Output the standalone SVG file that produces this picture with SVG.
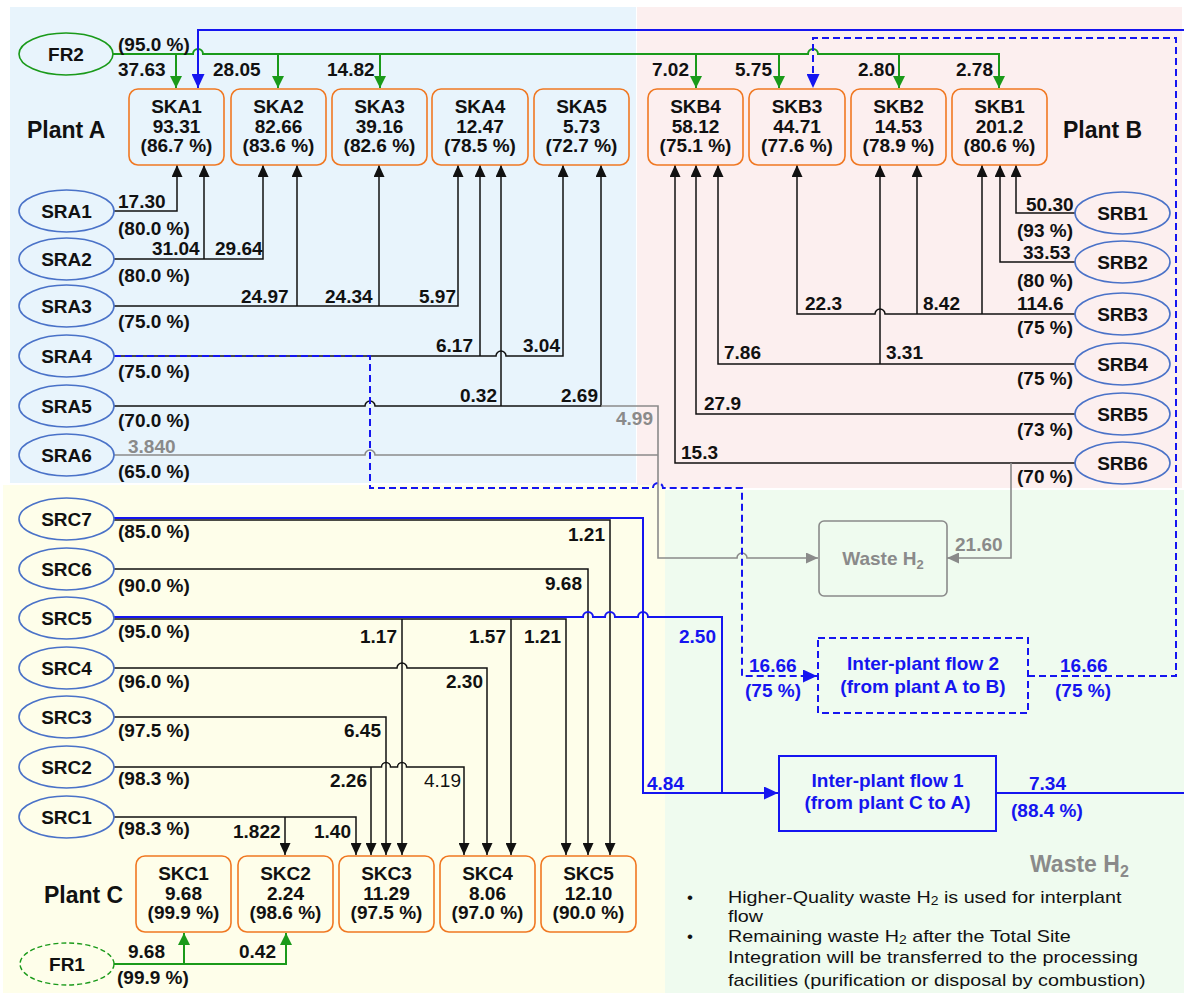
<svg xmlns="http://www.w3.org/2000/svg" width="1184" height="993" viewBox="0 0 1184 993">
<style>
text{font-family:"Liberation Sans",Arial,sans-serif}
.b{font-weight:bold;font-size:19px;fill:#111}
.bc{font-weight:bold;font-size:19px;fill:#111;text-anchor:middle}
.pl{font-weight:bold;font-size:23px;fill:#111}
.gy{font-weight:bold;font-size:19px;fill:#8a8a8a}
.bl{font-weight:bold;font-size:19px;fill:#1515f0}
.blc{font-weight:bold;font-size:19px;fill:#1515f0;text-anchor:middle}
.rg{font-size:19px;fill:#111}
.nt{font-size:17px;fill:#111}
.sk{fill:none;stroke:#f07822;stroke-width:1.6}
.sr{fill:none;stroke:#4a72c8;stroke-width:1.6}
.k{fill:none;stroke:#111;stroke-width:1.5}
.g{fill:none;stroke:#1a9a1a;stroke-width:2}
.u{fill:none;stroke:#1515f0;stroke-width:2}
.ud{fill:none;stroke:#1515f0;stroke-width:2;stroke-dasharray:7 4}
.gr{fill:none;stroke:#8a8a8a;stroke-width:1.6}
</style>
<defs>
<marker id="ak" viewBox="0 0 10 10" refX="10" refY="5" markerWidth="12" markerHeight="11" markerUnits="userSpaceOnUse" orient="auto" preserveAspectRatio="none"><path d="M0,0 L10,5 L0,10 z" fill="#111"/></marker>
<marker id="ag" viewBox="0 0 10 10" refX="10" refY="5" markerWidth="12" markerHeight="12" markerUnits="userSpaceOnUse" orient="auto" preserveAspectRatio="none"><path d="M0,0 L10,5 L0,10 z" fill="#1a9a1a"/></marker>
<marker id="au" viewBox="0 0 10 10" refX="10" refY="5" markerWidth="14" markerHeight="13" markerUnits="userSpaceOnUse" orient="auto" preserveAspectRatio="none"><path d="M0,0 L10,5 L0,10 z" fill="#1515f0"/></marker>
<marker id="ay" viewBox="0 0 10 10" refX="10" refY="5" markerWidth="12" markerHeight="11" markerUnits="userSpaceOnUse" orient="auto" preserveAspectRatio="none"><path d="M0,0 L10,5 L0,10 z" fill="#8a8a8a"/></marker>
</defs>
<rect width="1184" height="993" fill="#fff"/>
<g id="regions">
<rect x="10" y="7" width="626" height="476" fill="#e8f4fc"/>
<rect x="637" y="7" width="545" height="481" fill="#fcefef"/>
<rect x="3" y="485" width="662" height="508" fill="#fefeea"/>
<rect x="665" y="490" width="519" height="503" fill="#effbef"/>
</g>
<g id="labels-plants">
<text class="pl" x="27" y="138">Plant A</text>
<text class="pl" x="1063" y="138">Plant B</text>
<text class="pl" x="44" y="903">Plant C</text>
</g>
<g id="connectors">
<path class="g" d="M113,54 H193 a5,5 0 0 1 10,0 H808 a5,5 0 0 1 10,0 H999 V88" marker-end="url(#ag)"/>
<path class="g" d="M176,54 V88" marker-end="url(#ag)"/>
<path class="g" d="M278,54 V88" marker-end="url(#ag)"/>
<path class="g" d="M380,54 V88" marker-end="url(#ag)"/>
<path class="g" d="M696,54 V88" marker-end="url(#ag)"/>
<path class="g" d="M779,54 V88" marker-end="url(#ag)"/>
<path class="g" d="M899,54 V88" marker-end="url(#ag)"/>
<path class="u" d="M1184,30 H198 V88" marker-end="url(#au)"/>
<path class="k" d="M114,211 H177 V165" marker-end="url(#ak)"/>
<path class="k" d="M114,259 H263 V165" marker-end="url(#ak)"/>
<path class="k" d="M204,259 V165" marker-end="url(#ak)"/>
<path class="k" d="M114,306 H458 V165" marker-end="url(#ak)"/>
<path class="k" d="M297,306 V165" marker-end="url(#ak)"/>
<path class="k" d="M379,306 V165" marker-end="url(#ak)"/>
<path class="k" d="M114,356 H496 a5,5 0 0 1 10,0 H563 V165" marker-end="url(#ak)"/>
<path class="k" d="M480,356 V165" marker-end="url(#ak)"/>
<path class="k" d="M114,406 H365 a5,5 0 0 1 10,0 H601 V165" marker-end="url(#ak)"/>
<path class="k" d="M501,406 V165" marker-end="url(#ak)"/>
<path class="gr" d="M601,406 H658 V558 H737 a5,5 0 0 1 10,0 H818" marker-end="url(#ay)"/>
<path class="gr" d="M114,455 H365 a5,5 0 0 1 10,0 H658"/>
<path class="k" d="M1075,213 H1016 V165" marker-end="url(#ak)"/>
<path class="k" d="M1075,262 H1000 V165" marker-end="url(#ak)"/>
<path class="k" d="M1075,314 H885 a5,5 0 0 0 -10,0 H797 V165" marker-end="url(#ak)"/>
<path class="k" d="M982,314 V165" marker-end="url(#ak)"/>
<path class="k" d="M917,314 V165" marker-end="url(#ak)"/>
<path class="k" d="M1075,364 H718 V165" marker-end="url(#ak)"/>
<path class="k" d="M880,364 V165" marker-end="url(#ak)"/>
<path class="k" d="M1075,414 H696 V165" marker-end="url(#ak)"/>
<path class="k" d="M1075,463 H675 V165" marker-end="url(#ak)"/>
<path class="gr" d="M1011,463 V558 H947" marker-end="url(#ay)"/>
<path class="ud" d="M114,356 H370 V488 H653 a5,5 0 0 1 10,0 H742 V676 H817" marker-end="url(#au)"/>
<path class="ud" d="M1028,676 H1176 V38 H813 V88" marker-end="url(#au)"/>
<path class="u" d="M114,518 H643 V793 H778" marker-end="url(#au)"/>
<path class="k" d="M114,520 H610 V855" marker-end="url(#ak)"/>
<path class="k" d="M114,569 H588 V855" marker-end="url(#ak)"/>
<path class="u" d="M114,617 H583 a5,5 0 0 1 10,0 H605 a5,5 0 0 1 10,0 H638 a5,5 0 0 1 10,0 H722 V793"/>
<path class="k" d="M114,619 H566 V855" marker-end="url(#ak)"/>
<path class="k" d="M402,619 V855" marker-end="url(#ak)"/>
<path class="k" d="M511,619 V855" marker-end="url(#ak)"/>
<path class="k" d="M114,668 H397 a5,5 0 0 1 10,0 H487 V855" marker-end="url(#ak)"/>
<path class="k" d="M114,717 H386 V855" marker-end="url(#ak)"/>
<path class="k" d="M114,767 H381.5 a4.5,4.5 0 0 1 9,0 H397.5 a4.5,4.5 0 0 1 9,0 H464 V855" marker-end="url(#ak)"/>
<path class="k" d="M371,767 V855" marker-end="url(#ak)"/>
<path class="k" d="M114,817 H356 V855" marker-end="url(#ak)"/>
<path class="k" d="M285,817 V855" marker-end="url(#ak)"/>
<path class="g" d="M114,964 H286 V933" marker-end="url(#ag)"/>
<path class="g" d="M184,964 V933" marker-end="url(#ag)"/>
<path class="u" d="M996,793 H1184"/>
</g>
<g id="flow-labels">
<text class="b" x="118" y="51">(95.0 %)</text>
<text class="b" x="118" y="76">37.63</text>
<text class="b" x="213" y="76">28.05</text>
<text class="b" x="327" y="76">14.82</text>
<text class="b" x="652" y="76">7.02</text>
<text class="b" x="735" y="76">5.75</text>
<text class="b" x="858" y="76">2.80</text>
<text class="b" x="956" y="76">2.78</text>
<text class="b" x="118" y="208">17.30</text>
<text class="b" x="152" y="255">31.04</text>
<text class="b" x="215" y="255">29.64</text>
<text class="b" x="241" y="303">24.97</text>
<text class="b" x="325" y="303">24.34</text>
<text class="b" x="419" y="303">5.97</text>
<text class="b" x="436" y="352">6.17</text>
<text class="b" x="523" y="352">3.04</text>
<text class="b" x="460" y="402">0.32</text>
<text class="b" x="561" y="402">2.69</text>
<text class="gy" x="616" y="425">4.99</text>
<text class="gy" x="128" y="453">3.840</text>
<text class="b" x="118" y="235">(80.0 %)</text>
<text class="b" x="118" y="282">(80.0 %)</text>
<text class="b" x="118" y="328">(75.0 %)</text>
<text class="b" x="118" y="378">(75.0 %)</text>
<text class="b" x="118" y="427">(70.0 %)</text>
<text class="b" x="118" y="478">(65.0 %)</text>
<text class="b" x="1026" y="211">50.30</text>
<text class="b" x="1023" y="259">33.53</text>
<text class="b" x="805" y="310">22.3</text>
<text class="b" x="923" y="310">8.42</text>
<text class="b" x="1017" y="310">114.6</text>
<text class="b" x="724" y="359">7.86</text>
<text class="b" x="886" y="359">3.31</text>
<text class="b" x="704" y="410">27.9</text>
<text class="b" x="681" y="459">15.3</text>
<text class="b" x="1073" y="237" text-anchor="end">(93 %)</text>
<text class="b" x="1073" y="287" text-anchor="end">(80 %)</text>
<text class="b" x="1073" y="334" text-anchor="end">(75 %)</text>
<text class="b" x="1073" y="385" text-anchor="end">(75 %)</text>
<text class="b" x="1073" y="436" text-anchor="end">(73 %)</text>
<text class="b" x="1073" y="483" text-anchor="end">(70 %)</text>
<text class="gy" x="955" y="551">21.60</text>
<text class="b" x="118" y="538">(85.0 %)</text>
<text class="b" x="118" y="592">(90.0 %)</text>
<text class="b" x="118" y="638">(95.0 %)</text>
<text class="b" x="118" y="688">(96.0 %)</text>
<text class="b" x="118" y="737">(97.5 %)</text>
<text class="b" x="118" y="785">(98.3 %)</text>
<text class="b" x="118" y="835">(98.3 %)</text>
<text class="b" x="568" y="541">1.21</text>
<text class="b" x="545" y="590">9.68</text>
<text class="b" x="360" y="643">1.17</text>
<text class="b" x="469" y="643">1.57</text>
<text class="b" x="524" y="643">1.21</text>
<text class="b" x="446" y="688">2.30</text>
<text class="b" x="344" y="737">6.45</text>
<text class="b" x="330" y="787">2.26</text>
<text class="rg" x="424" y="787" fill="#333">4.19</text>
<text class="b" x="233" y="838">1.822</text>
<text class="b" x="314" y="838">1.40</text>
<text class="b" x="128" y="958">9.68</text>
<text class="b" x="239" y="958">0.42</text>
<text class="b" x="117" y="984">(99.9 %)</text>
<text class="bl" x="679" y="643">2.50</text>
<text class="bl" x="647" y="790">4.84</text>
<text class="bl" x="749" y="672">16.66</text>
<text class="bl" x="745" y="697">(75 %)</text>
<text class="bl" x="1060" y="672">16.66</text>
<text class="bl" x="1055" y="697">(75 %)</text>
<text class="bl" x="1029" y="790">7.34</text>
<text class="bl" x="1011" y="817">(88.4 %)</text>
</g>
<g id="FR2"><ellipse cx="66" cy="54" rx="47" ry="21" fill="none" stroke="#1a9a1a" stroke-width="1.6"/><text class="bc" x="66" y="61">FR2</text></g>
<g id="FR1"><ellipse cx="67" cy="964" rx="47" ry="21" fill="none" stroke="#1a9a1a" stroke-width="1.4" stroke-dasharray="5 3"/><text class="bc" x="67" y="971">FR1</text></g>
<g id="SRA1"><ellipse class="sr" cx="66.5" cy="211" rx="47.5" ry="21"/><text class="bc" x="66.5" y="218">SRA1</text></g>
<g id="SRA2"><ellipse class="sr" cx="66.5" cy="259" rx="47.5" ry="21"/><text class="bc" x="66.5" y="266">SRA2</text></g>
<g id="SRA3"><ellipse class="sr" cx="66.5" cy="306" rx="47.5" ry="21"/><text class="bc" x="66.5" y="313">SRA3</text></g>
<g id="SRA4"><ellipse class="sr" cx="66.5" cy="356" rx="47.5" ry="21"/><text class="bc" x="66.5" y="363">SRA4</text></g>
<g id="SRA5"><ellipse class="sr" cx="66.5" cy="406" rx="47.5" ry="21"/><text class="bc" x="66.5" y="413">SRA5</text></g>
<g id="SRA6"><ellipse class="sr" cx="66.5" cy="455" rx="47.5" ry="21"/><text class="bc" x="66.5" y="462">SRA6</text></g>
<g id="SRB1"><ellipse class="sr" cx="1122.5" cy="213" rx="47.5" ry="21"/><text class="bc" x="1122.5" y="220">SRB1</text></g>
<g id="SRB2"><ellipse class="sr" cx="1122.5" cy="262" rx="47.5" ry="21"/><text class="bc" x="1122.5" y="269">SRB2</text></g>
<g id="SRB3"><ellipse class="sr" cx="1122.5" cy="314" rx="47.5" ry="21"/><text class="bc" x="1122.5" y="321">SRB3</text></g>
<g id="SRB4"><ellipse class="sr" cx="1122.5" cy="364" rx="47.5" ry="21"/><text class="bc" x="1122.5" y="371">SRB4</text></g>
<g id="SRB5"><ellipse class="sr" cx="1122.5" cy="414" rx="47.5" ry="21"/><text class="bc" x="1122.5" y="421">SRB5</text></g>
<g id="SRB6"><ellipse class="sr" cx="1122.5" cy="463" rx="47.5" ry="21"/><text class="bc" x="1122.5" y="470">SRB6</text></g>
<g id="SRC7"><ellipse class="sr" cx="66.5" cy="519" rx="47.5" ry="21"/><text class="bc" x="66.5" y="526">SRC7</text></g>
<g id="SRC6"><ellipse class="sr" cx="66.5" cy="569" rx="47.5" ry="21"/><text class="bc" x="66.5" y="576">SRC6</text></g>
<g id="SRC5"><ellipse class="sr" cx="66.5" cy="618" rx="47.5" ry="21"/><text class="bc" x="66.5" y="625">SRC5</text></g>
<g id="SRC4"><ellipse class="sr" cx="66.5" cy="668" rx="47.5" ry="21"/><text class="bc" x="66.5" y="675">SRC4</text></g>
<g id="SRC3"><ellipse class="sr" cx="66.5" cy="717" rx="47.5" ry="21"/><text class="bc" x="66.5" y="724">SRC3</text></g>
<g id="SRC2"><ellipse class="sr" cx="66.5" cy="767" rx="47.5" ry="21"/><text class="bc" x="66.5" y="774">SRC2</text></g>
<g id="SRC1"><ellipse class="sr" cx="66.5" cy="817" rx="47.5" ry="21"/><text class="bc" x="66.5" y="824">SRC1</text></g>
<g id="SKA1"><rect class="sk" x="129" y="89" width="95" height="76" rx="9"/><text class="bc" x="176.5" y="113">SKA1</text><text class="bc" x="176.5" y="133">93.31</text><text class="bc" x="176.5" y="152">(86.7 %)</text></g>
<g id="SKA2"><rect class="sk" x="231" y="89" width="95" height="76" rx="9"/><text class="bc" x="278.5" y="113">SKA2</text><text class="bc" x="278.5" y="133">82.66</text><text class="bc" x="278.5" y="152">(83.6 %)</text></g>
<g id="SKA3"><rect class="sk" x="332" y="89" width="95" height="76" rx="9"/><text class="bc" x="379.5" y="113">SKA3</text><text class="bc" x="379.5" y="133">39.16</text><text class="bc" x="379.5" y="152">(82.6 %)</text></g>
<g id="SKA4"><rect class="sk" x="432" y="89" width="96" height="76" rx="9"/><text class="bc" x="480" y="113">SKA4</text><text class="bc" x="480" y="133">12.47</text><text class="bc" x="480" y="152">(78.5 %)</text></g>
<g id="SKA5"><rect class="sk" x="534" y="89" width="95" height="76" rx="9"/><text class="bc" x="581.5" y="113">SKA5</text><text class="bc" x="581.5" y="133">5.73</text><text class="bc" x="581.5" y="152">(72.7 %)</text></g>
<g id="SKB4"><rect class="sk" x="648" y="89" width="95" height="76" rx="9"/><text class="bc" x="695.5" y="113">SKB4</text><text class="bc" x="695.5" y="133">58.12</text><text class="bc" x="695.5" y="152">(75.1 %)</text></g>
<g id="SKB3"><rect class="sk" x="749" y="89" width="96" height="76" rx="9"/><text class="bc" x="797" y="113">SKB3</text><text class="bc" x="797" y="133">44.71</text><text class="bc" x="797" y="152">(77.6 %)</text></g>
<g id="SKB2"><rect class="sk" x="851" y="89" width="95" height="76" rx="9"/><text class="bc" x="898.5" y="113">SKB2</text><text class="bc" x="898.5" y="133">14.53</text><text class="bc" x="898.5" y="152">(78.9 %)</text></g>
<g id="SKB1"><rect class="sk" x="952" y="89" width="95" height="76" rx="9"/><text class="bc" x="999.5" y="113">SKB1</text><text class="bc" x="999.5" y="133">201.2</text><text class="bc" x="999.5" y="152">(80.6 %)</text></g>
<g id="SKC1"><rect class="sk" x="136" y="856" width="95" height="76" rx="9"/><text class="bc" x="183.5" y="880">SKC1</text><text class="bc" x="183.5" y="900">9.68</text><text class="bc" x="183.5" y="919">(99.9 %)</text></g>
<g id="SKC2"><rect class="sk" x="238" y="856" width="95" height="76" rx="9"/><text class="bc" x="285.5" y="880">SKC2</text><text class="bc" x="285.5" y="900">2.24</text><text class="bc" x="285.5" y="919">(98.6 %)</text></g>
<g id="SKC3"><rect class="sk" x="339" y="856" width="95" height="76" rx="9"/><text class="bc" x="386.5" y="880">SKC3</text><text class="bc" x="386.5" y="900">11.29</text><text class="bc" x="386.5" y="919">(97.5 %)</text></g>
<g id="SKC4"><rect class="sk" x="440" y="856" width="95" height="76" rx="9"/><text class="bc" x="487.5" y="880">SKC4</text><text class="bc" x="487.5" y="900">8.06</text><text class="bc" x="487.5" y="919">(97.0 %)</text></g>
<g id="SKC5"><rect class="sk" x="541" y="856" width="95" height="76" rx="9"/><text class="bc" x="588.5" y="880">SKC5</text><text class="bc" x="588.5" y="900">12.10</text><text class="bc" x="588.5" y="919">(90.0 %)</text></g>
<g id="WasteBox"><rect x="819" y="521" width="128" height="75" rx="5" fill="none" stroke="#8a8a8a" stroke-width="1.6"/><text class="gy" x="883" y="565" text-anchor="middle">Waste H<tspan font-size="13" dy="4">2</tspan></text></g>
<g id="IPF2"><rect x="818" y="638" width="210" height="75" fill="none" stroke="#1515f0" stroke-width="2" stroke-dasharray="7 4"/><text class="blc" x="923" y="670">Inter-plant flow 2</text><text class="blc" x="923" y="693">(from plant A to B)</text></g>
<g id="IPF1"><rect x="779" y="756" width="217" height="75" fill="none" stroke="#1515f0" stroke-width="2"/><text class="blc" x="887.5" y="787">Inter-plant flow 1</text><text class="blc" x="887.5" y="809">(from plant C to A)</text></g>
<g id="notes">
<text x="1030" y="872" font-weight="bold" font-size="23" fill="#8a8a8a">Waste H<tspan font-size="16" dy="5">2</tspan></text>
<text class="nt" x="687" y="903">•</text>
<text class="nt" x="687" y="942">•</text>
<g transform="translate(728 0) scale(1.16 1)">
<text class="nt" x="0" y="903">Higher-Quality waste H<tspan font-size="12" dy="2">2</tspan><tspan dy="-2"> is used for interplant</tspan></text>
<text class="nt" x="0" y="922">flow</text>
<text class="nt" x="0" y="942">Remaining waste H<tspan font-size="12" dy="2">2</tspan><tspan dy="-2"> after the Total Site</tspan></text>
<text class="nt" x="0" y="963">Integration will be transferred to the processing</text>
<text class="nt" x="0" y="986">facilities (purification or disposal by combustion)</text>
</g>
</g>
</svg>
